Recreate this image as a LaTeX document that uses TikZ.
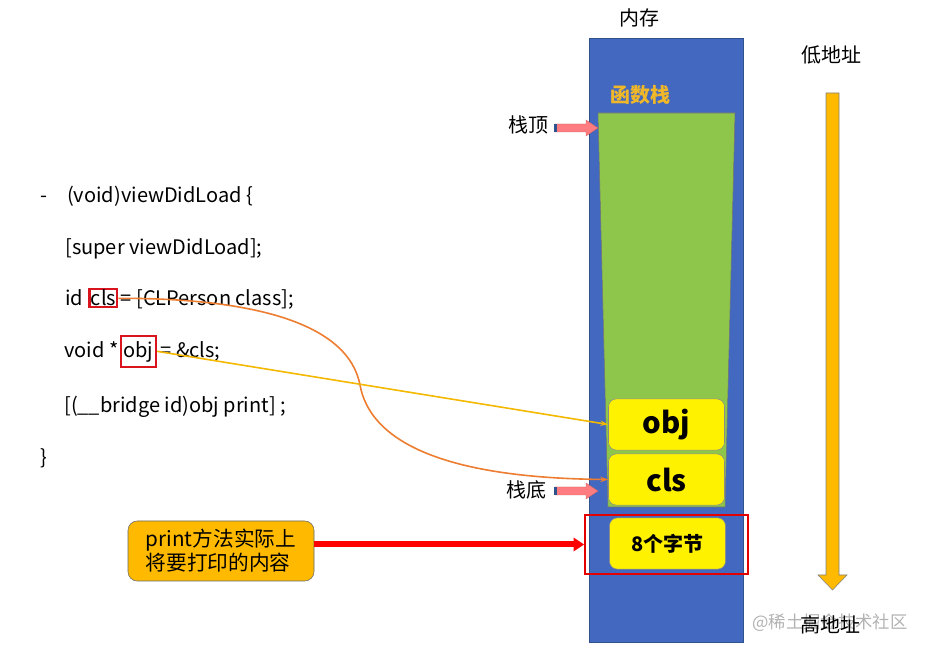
\documentclass[tikz,border=0pt]{standalone}
\usepackage{fontspec}
\setmainfont{Noto Sans CJK SC}
\usetikzlibrary{arrows.meta,calc}
\definecolor{memblue}{HTML}{4268BF}
\definecolor{memedge}{HTML}{2F528F}
\definecolor{stackgreen}{HTML}{8DC64B}
\definecolor{goldtxt}{HTML}{F0B828}
\definecolor{orangefill}{HTML}{FFBA00}
\definecolor{pinkarrow}{HTML}{FF7C80}
\definecolor{curveorange}{HTML}{ED7D31}
\definecolor{lineyellow}{HTML}{F5B800}
\definecolor{markred}{HTML}{D9141C}
\tikzset{
  codeline/.style={anchor=base west,inner sep=0pt,font=\fontsize{15}{17}\selectfont},
  lbltext/.style={inner sep=0pt,font=\fontsize{15}{18}\selectfont},
  slot/.style={draw=black!45,fill=yellow,rounded corners=6pt,minimum width=87pt,minimum height=38.5pt,inner sep=0pt,font=\bfseries\fontsize{22}{24}\selectfont},
  codemark/.style={draw=markred,line width=1.6pt,anchor=base west,font=\fontsize{15}{17}\selectfont},
  ptr/.style={fill=pinkarrow,draw=pinkarrow!80!black,line width=0.3pt},
}
\begin{document}
\begin{tikzpicture}[x=0.75pt,y=-0.75pt]
\useasboundingbox (0,0) rectangle (933,652);
% memory column
\node[lbltext] (memtitle) at (639,18) {内存};
\node[draw=memedge,fill=memblue,minimum width=115.5pt,minimum height=453pt,inner sep=0pt] (mem) at (666,340) {};
\node[inner sep=0pt,text=goldtxt,font=\bfseries\fontsize{15}{18}\selectfont] (fstack) at (640,95) {函数栈};
\draw[draw=black!55,fill=stackgreen,line width=0.4pt] (598,113) -- (735,113) -- (725,507) -- (608,507) -- cycle;
\node[slot] (objbox) at (666.5,424.5) {obj};
\node[slot] (clsbox) at (666.5,479.5) {cls};
\node[slot,font=\bfseries\fontsize{15}{18}\selectfont] (bytes) at (667.5,543.5) {8个字节};
\node[draw=red!90!black,line width=1.5pt,minimum width=122pt,minimum height=44pt,inner sep=0pt] (redrect) at (666.5,544.5) {};
% stack pointers
\node[lbltext,anchor=east] (toplbl) at (549,125) {栈顶};
\draw[ptr] (555,124) -- (586,124) -- (586,120) -- (598,128) -- (586,136) -- (586,132) -- (555,132) -- cycle;
\fill[memedge] (554,124) rectangle (557,132);
\node[lbltext,anchor=east] (botlbl) at (547,490) {栈底};
\draw[ptr] (555,487) -- (586,487) -- (586,483) -- (598,491) -- (586,499) -- (586,495) -- (555,495) -- cycle;
\fill[memedge] (554,487) rectangle (557,495);
% address direction
\node[lbltext] (low) at (831,55) {低地址};
\draw[fill=orangefill,draw=black!50,line width=0.4pt] (826,93) -- (839,93) -- (839,575) -- (847,575) -- (832.5,590) -- (818,575) -- (826,575) -- cycle;
\node[inner sep=0pt,text=black!30,font=\fontsize{13}{15}\selectfont,anchor=west] (wm) at (752,623) {@稀土掘金技术社区};
\node[lbltext] (high) at (830,625) {高地址};
% code
\node[codeline] (c1) at (40,203) {-\hspace{15pt}(void)viewDidLoad \{};
\node[codeline] (c2) at (65,255) {[super viewDidLoad];};
\node[codeline] (c3a) at (65,306) {id};
\node[codemark,inner xsep=1pt,inner ysep=1pt,text height=11.5pt,text depth=0pt] (clsmark) at ($(c3a.base east)+(5,0)$) {cls};
\node[codeline] (c3b) at ($(clsmark.base east)+(2,0)$) {= [CLPerson class];};
\node[codeline] (c4a) at (64,358) {void *};
\node[codemark,inner xsep=2pt,inner ysep=1.5pt,text height=15pt,text depth=5pt] (objmark) at ($(c4a.base east)+(1,0)$) {obj};
\node[codeline] (c4b) at ($(objmark.base east)+(3,0)$) {= \&cls;};
\node[codeline] (c5) at (64,413) {[(\_\_bridge id)obj print] ;};
\node[codeline] (c6) at (40,465) {\}};
% connectors
\draw[curveorange,line width=1.2pt,-{Stealth[length=6pt,width=4pt]}] (clsmark.east) .. controls (250,298) and (348,322) .. (360,385) .. controls (370,440) and (440,478) .. (clsbox.west);
\draw[lineyellow,line width=1.2pt,-{Stealth[length=6pt,width=4pt]}] (objmark.east) -- (objbox.west);
% note
\node[draw=black!60,fill=orangefill,rounded corners=7pt,minimum width=139.5pt,minimum height=45pt,inner sep=0pt,align=left,font=\fontsize{15.5}{18}\selectfont] (note) at (221,551) {print方法实际上\\将要打印的内容};
\draw[red,line width=4.5pt,-{Triangle[length=8pt,width=10pt]}] (note.east |- redrect.west) -- (redrect.west);
\end{tikzpicture}
\end{document}
